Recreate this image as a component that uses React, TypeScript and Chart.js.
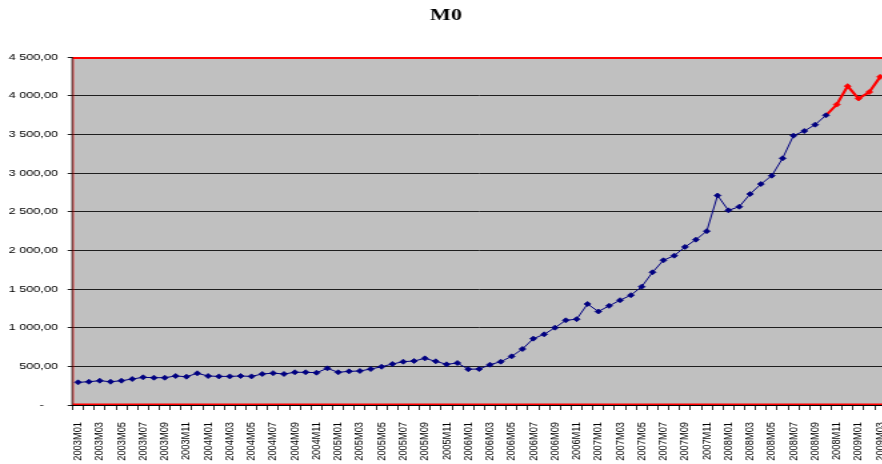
import React, { useEffect, useRef } from "react";
import { Chart, registerables } from "chart.js";

Chart.register(...registerables);

const categories = [
  "2003M01","2003M02","2003M03","2003M04","2003M05","2003M06","2003M07","2003M08","2003M09","2003M10","2003M11","2003M12",
  "2004M01","2004M02","2004M03","2004M04","2004M05","2004M06","2004M07","2004M08","2004M09","2004M10","2004M11","2004M12",
  "2005M01","2005M02","2005M03","2005M04","2005M05","2005M06","2005M07","2005M08","2005M09","2005M10","2005M11","2005M12",
  "2006M01","2006M02","2006M03","2006M04","2006M05","2006M06","2006M07","2006M08","2006M09","2006M10","2006M11","2006M12",
  "2007M01","2007M02","2007M03","2007M04","2007M05","2007M06","2007M07","2007M08","2007M09","2007M10","2007M11","2007M12",
  "2008M01","2008M02","2008M03","2008M04","2008M05","2008M06","2008M07","2008M08","2008M09","2008M10","2008M11","2008M12",
  "2009M01","2009M02","2009M03",
];

const historyValues = [
  293, 301, 314, 301, 314, 336, 358, 353, 353, 375, 366, 410,
  375, 370, 370, 375, 370, 401, 412, 401, 423, 423, 418, 474,
  423, 435, 440, 465, 495, 530, 560, 569, 603, 565, 526, 543,
  463, 465, 521, 560, 629, 724, 858, 914, 1000, 1095, 1110, 1306,
  1209, 1282, 1355, 1420, 1530, 1716, 1871, 1931, 2044, 2138, 2248, 2709,
  2517, 2564, 2728, 2857, 2965, 3190, 3483, 3543, 3625, 3746,
];

const recentStart = 69;
const recentValues = [3746, 3885, 4123, 3963, 4047, 4243];

const yTicks = [0, 500, 1000, 1500, 2000, 2500, 3000, 3500, 4000, 4500];

function fmt(v: number): string {
  if (v === 0) return "-\u00a0\u00a0\u00a0\u00a0";
  const intPart = Math.floor(v).toString();
  let out = "";
  for (let i = 0; i < intPart.length; i++) {
    const fromEnd = intPart.length - i;
    out += intPart[i];
    if (fromEnd > 1 && (fromEnd - 1) % 3 === 0) out += " ";
  }
  const dec = (v - Math.floor(v)).toFixed(2).slice(2);
  return out + "," + dec;
}

const frame = {
  id: "frame",
  beforeDraw(chart: any) {
    const { ctx, chartArea: a } = chart;
    ctx.save();
    ctx.fillStyle = "#ffffff";
    ctx.fillRect(0, 0, chart.width, chart.height);
    ctx.fillStyle = "#C0C0C0";
    ctx.fillRect(a.left, a.top, a.right - a.left, a.bottom - a.top);
    ctx.restore();
  },
  beforeDatasetsDraw(chart: any) {
    const { ctx, chartArea: a } = chart;
    ctx.save();
    ctx.strokeStyle = "#FF0000";
    ctx.lineWidth = 2;
    ctx.beginPath();
    ctx.moveTo(a.left, a.top + 1);
    ctx.lineTo(a.right + 2, a.top + 1);
    ctx.stroke();
    ctx.lineWidth = 1.5;
    ctx.beginPath();
    ctx.moveTo(a.left, a.bottom - 0.75);
    ctx.lineTo(a.right + 2, a.bottom - 0.75);
    ctx.stroke();
    ctx.lineWidth = 0.8;
    ctx.beginPath();
    ctx.moveTo(a.left + 0.4, a.top);
    ctx.lineTo(a.left + 0.4, a.bottom);
    ctx.stroke();
    ctx.strokeStyle = "#000000";
    ctx.lineWidth = 0.8;
    ctx.beginPath();
    ctx.moveTo(a.left - 0.4, a.top);
    ctx.lineTo(a.left - 0.4, a.bottom + 1);
    ctx.stroke();
    ctx.lineWidth = 1;
    ctx.beginPath();
    ctx.moveTo(a.left - 0.8, a.bottom + 0.5);
    ctx.lineTo(a.right + 2, a.bottom + 0.5);
    ctx.stroke();
    ctx.restore();
  },
};

export default function App() {
  const ref = useRef<HTMLCanvasElement | null>(null);

  useEffect(() => {
    if (!ref.current) return;
    const blueData = categories.map((_, i) => (i < historyValues.length ? historyValues[i] : null));
    const redData = categories.map((_, i) =>
      i >= recentStart && i < recentStart + recentValues.length ? recentValues[i - recentStart] : null
    );
    const chart = new Chart(ref.current, {
      type: "line",
      data: {
        labels: categories,
        datasets: [
          {
            data: blueData,
            borderColor: "#000080",
            backgroundColor: "#000080",
            borderWidth: 1,
            pointStyle: "rectRot",
            pointRadius: 2.5,
            pointBorderWidth: 0.8,
            pointBackgroundColor: "#000080",
            pointBorderColor: "#000080",
            tension: 0,
            spanGaps: false,
          },
          {
            data: redData,
            borderColor: "#FF0000",
            backgroundColor: "#FF0000",
            borderWidth: 2.2,
            pointStyle: "rectRot",
            pointRadius: (c: any) => (c.dataIndex === recentStart ? 0 : 2.5),
            pointBorderWidth: 0.8,
            pointBackgroundColor: "#FF0000",
            pointBorderColor: "#FF0000",
            tension: 0,
            spanGaps: false,
          },
        ],
      },
      options: {
        animation: false,
        responsive: false,
        devicePixelRatio: 1,
        events: [],
        layout: { padding: { left: 0, right: 0, top: 0, bottom: 0 } },
        plugins: {
          legend: { display: false },
          tooltip: { enabled: false },
          title: {
            display: true,
            text: "M0",
            color: "#000000",
            font: { family: "'Liberation Serif', serif", size: 16.5, weight: "bold", lineHeight: 1.2 },
            padding: { top: 6, bottom: 31.2 },
          },
        },
        scales: {
          x: {
            type: "category",
            offset: true,
            grid: {
              offset: true,
              drawOnChartArea: false,
              drawTicks: true,
              tickLength: 5,
              color: "#000000",
              lineWidth: 0.8,
            },
            border: { display: false },
            ticks: {
              autoSkip: false,
              maxRotation: 90,
              minRotation: 90,
              padding: 12,
              color: "#000000",
              font: { family: "'Liberation Sans', Arial, sans-serif", size: 9.3 },
              callback: (_v: any, i: number) => (i % 2 === 0 ? categories[i] : ""),
            },
            afterFit: (s: any) => {
              s.height = 59;
              s.paddingLeft = 0;
              s.paddingRight = 0;
            },
          },
          y: {
            min: 0,
            max: 4500,
            afterBuildTicks: (s: any) => {
              s.ticks = yTicks.map((v) => ({ value: v }));
            },
            grid: {
              color: "#1e1e1e",
              lineWidth: 1,
              drawTicks: true,
              tickLength: 3.75,
            },
            border: { display: false },
            ticks: {
              padding: 7.25,
              color: "#000000",
              font: { family: "'Liberation Sans', Arial, sans-serif", size: 9.5 },
              callback: (v: any) => fmt(Number(v)),
            },
            afterFit: (s: any) => {
              s.width = 54.5;
              s.paddingLeft = 0;
              s.paddingRight = 0;
            },
          },
        },
      },
      plugins: [frame],
    });
    return () => chart.destroy();
  }, []);

  return (
    <div
      style={{
        position: "fixed",
        left: 0,
        top: 0,
        width: 882,
        height: 464,
        overflow: "hidden",
        background: "#ffffff",
      }}
    >
      <canvas ref={ref} width={669} height={464} style={{ width: "891.6px", height: "464px", display: "block" }} />
    </div>
  );
}
